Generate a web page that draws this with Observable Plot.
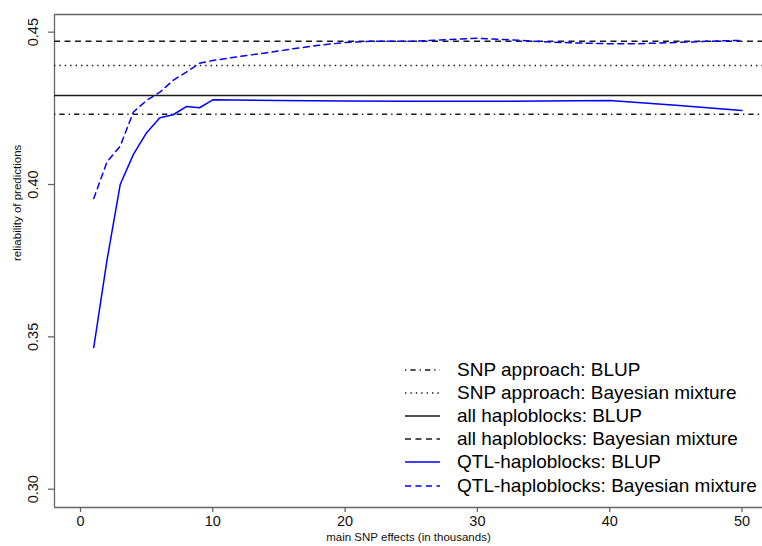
<!DOCTYPE html>
<html>
<head>
<meta charset="utf-8">
<script src="https://cdn.jsdelivr.net/npm/d3@7"></script>
<script src="https://cdn.jsdelivr.net/npm/@observablehq/plot@0.6"></script>
<style>
  html, body { margin: 0; padding: 0; background: #fff; }
  #wrap { position: relative; width: 762px; height: 546px; font-family: "Liberation Sans", Arial, sans-serif; }
  #legend { position: absolute; left: 405px; top: 358px; }
  .row { display: flex; align-items: center; height: 23.2px; font-size: 19px; color: #000; white-space: nowrap; }
  .row svg { margin-right: 17px; flex: none; }
</style>
</head>
<body>
<div id="wrap"></div>
<script>
// Reference (constant) methods
const refNames = ["SNP approach: BLUP", "SNP approach: Bayesian mixture", "all haploblocks: BLUP", "all haploblocks: Bayesian mixture"];
const refValues = [0.4231, 0.4391, 0.4292, 0.4470];
const refDash = ["1.33,4,5.33,4", "1.4,4", null, "6,4.5"];

// QTL-haploblocks: BLUP
const blupX = [1, 2, 3, 4, 5, 6, 7, 8, 9, 10, 15, 20, 25, 30, 35, 40, 45, 50];
const blupY = [0.3465, 0.3751, 0.4000, 0.4099, 0.4170, 0.4219, 0.4229, 0.4256, 0.4252, 0.4278, 0.4276, 0.4274, 0.4273, 0.4273, 0.4274, 0.4276, 0.4260, 0.4243];

// QTL-haploblocks: Bayesian mixture
const bayesX = [1, 2, 3, 4, 5, 6, 7, 8, 9, 10, 12, 14, 16, 18, 20, 22, 25, 28, 30, 32, 34, 37, 40, 42, 45, 48, 50];
const bayesY = [0.3954, 0.4074, 0.4126, 0.4238, 0.4276, 0.4303, 0.4342, 0.4369, 0.4398, 0.4407, 0.4420, 0.4432, 0.4445, 0.4457, 0.4466, 0.4470, 0.4470, 0.4476, 0.4480, 0.4476, 0.4471, 0.4465, 0.4462, 0.4462, 0.4466, 0.4471, 0.4473];

const xTicks = [0, 10, 20, 30, 40, 50];
const yTicks = [0.30, 0.35, 0.40, 0.45];
const xLabel = "main SNP effects (in thousands)";
const yLabel = "reliability of predictions";

const xDomain = [-1.965, 51.55];
const yDomain = [0.294, 0.4558];

const blupData = blupX.map((x, i) => ({x, y: blupY[i]}));
const bayesData = bayesX.map((x, i) => ({x, y: bayesY[i]}));

const refMarks = refValues.map((v, i) => Plot.ruleY([v], {stroke: "#1a1a1a", strokeWidth: 1.5, strokeDasharray: refDash[i] || undefined}));

const chart = Plot.plot({
  width: 762,
  height: 546,
  marginLeft: 54,
  marginTop: 14,
  marginBottom: 39,
  marginRight: 0,
  style: {fontFamily: "Liberation Sans, Arial, sans-serif", background: "#fff"},
  x: {domain: xDomain},
  y: {domain: yDomain},
  marks: [
    Plot.ruleY([yDomain[1]], {stroke: "#666", strokeWidth: 1.3}),
    Plot.ruleY([yDomain[0]], {stroke: "#666", strokeWidth: 1.3}),
    Plot.ruleX([xDomain[0]], {stroke: "#666", strokeWidth: 1.3}),
    ...refMarks,
    Plot.line(blupData, {x: "x", y: "y", stroke: "#0000ff", strokeWidth: 1.5}),
    Plot.line(bayesData, {x: "x", y: "y", stroke: "#0000ff", strokeWidth: 1.5, strokeDasharray: "6,4.5"}),
    Plot.axisX({ticks: xTicks, tickSize: 5, tickPadding: 3, fontSize: 14.5, stroke: "#666", strokeWidth: 1.3, fill: "#111", label: null, tickFormat: d3.format("d")}),
    Plot.axisY({ticks: yTicks, tickSize: 6, tickPadding: 10.5, fontSize: 14.5, stroke: "#666", strokeWidth: 1.3, fill: "#111", label: null, tickRotate: -90, textAnchor: "middle", tickFormat: d3.format(".2f")}),
    Plot.text([xLabel], {frameAnchor: "bottom", text: d => d, dy: 33, fontSize: 11.5, fill: "#111"}),
    Plot.text([yLabel], {frameAnchor: "left", text: d => d, dx: -37, rotate: -90, fontSize: 11.5, fill: "#111"})
  ]
});

const wrap = document.getElementById("wrap");
wrap.appendChild(chart);

// Legend
const legendNames = [...refNames, "QTL-haploblocks: BLUP", "QTL-haploblocks: Bayesian mixture"];
const legendColors = ["#1a1a1a", "#1a1a1a", "#1a1a1a", "#1a1a1a", "#0000ff", "#0000ff"];
const legendDash = [...refDash, null, "6,4.5"];
const legend = document.createElement("div");
legend.id = "legend";
legendNames.forEach((name, i) => {
  const row = document.createElement("div");
  row.className = "row";
  const dash = legendDash[i] ? ` stroke-dasharray="${legendDash[i]}"` : "";
  row.innerHTML = `<svg width="35" height="10"><line x1="0" y1="5" x2="35" y2="5" stroke="${legendColors[i]}" stroke-width="1.5"${dash}/></svg><span>${name}</span>`;
  legend.appendChild(row);
});
wrap.appendChild(legend);
</script>
</body>
</html>
